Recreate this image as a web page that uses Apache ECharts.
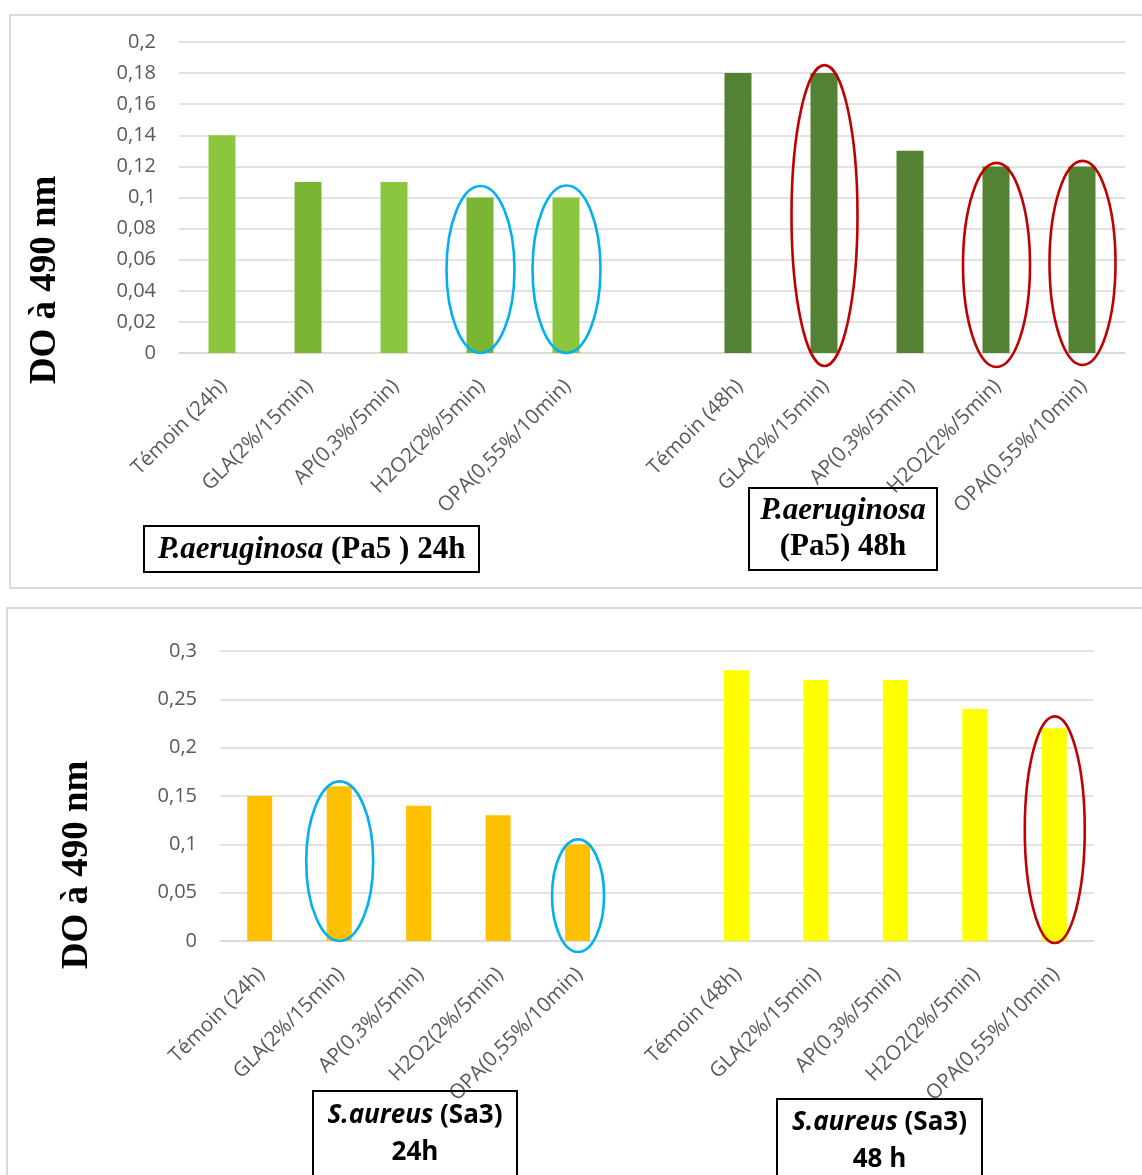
<!DOCTYPE html>
<html>
<head>
<meta charset="utf-8">
<script src="https://cdn.jsdelivr.net/npm/echarts@6/dist/echarts.min.js"></script>
<style>
  html, body { margin: 0; padding: 0; background: #ffffff; }
  #chart { width: 1142px; height: 1175px; }
</style>
</head>
<body>
<div id="chart"></div>
<script>
// Category labels for the two incubation times
const cats24 = ['Témoin (24h)', 'GLA(2%/15min)', 'AP(0,3%/5min)', 'H2O2(2%/5min)', 'OPA(0,55%/10min)'];
const cats48 = ['Témoin (48h)', 'GLA(2%/15min)', 'AP(0,3%/5min)', 'H2O2(2%/5min)', 'OPA(0,55%/10min)'];

// Optical density at 490 nm
const pa24 = [0.14, 0.11, 0.11, 0.10, 0.10];
const pa48 = [0.18, 0.18, 0.13, 0.12, 0.12];
const sa24 = [0.15, 0.16, 0.14, 0.13, 0.10];
const sa48 = [0.28, 0.27, 0.27, 0.24, 0.22];

// Treatments circled on each panel (index within the 24h / 48h group)
const paCircled24 = [3, 4];
const paCircled48 = [1, 3, 4];
const saCircled24 = [1, 4];
const saCircled48 = [4];

// ---- helpers ----
const GAP = 1;
const axisCats = cats24.concat([''], cats48);
const leftPart = v => v.concat(new Array(GAP + cats48.length).fill('-'));
const rightPart = v => new Array(cats24.length + GAP).fill('-').concat(v);
const fmt = v => String(Math.round(v * 100) / 100).replace('.', ',');

const GRID_GREY = '#D9D9D9';
const LABEL_GREY = '#595959';

function xAxisFor(gridIndex) {
  return {
    type: 'category', gridIndex, data: axisCats,
    axisLine: { show: true, lineStyle: { color: GRID_GREY, width: 1.5 } },
    axisTick: { show: false },
    axisLabel: {
      interval: 0, rotate: 45, margin: 17, padding: [0, 8, 0, 0],
      align: 'right', verticalAlign: 'top',
      color: LABEL_GREY, fontFamily: 'Open Sans', fontSize: 20.5
    }
  };
}
function yAxisFor(gridIndex, max, interval) {
  return {
    type: 'value', gridIndex, min: 0, max, interval,
    axisLine: { show: false }, axisTick: { show: false },
    splitLine: { lineStyle: { color: GRID_GREY, width: 1.5 } },
    axisLabel: { margin: 23, color: LABEL_GREY, fontFamily: 'Open Sans', fontSize: 20, formatter: fmt }
  };
}

const pa24Colors = ['#8AC73E', '#7AB534', '#8AC73E', '#7AB534', '#8AC73E'];

const chart = echarts.init(document.getElementById('chart'), null, { renderer: 'canvas' });

chart.setOption({
  animation: false,
  backgroundColor: '#ffffff',
  grid: [
    { left: 179, top: 42, width: 946, height: 311 },
    { left: 220, top: 651, width: 874, height: 290 }
  ],
  xAxis: [xAxisFor(0), xAxisFor(1)],
  yAxis: [yAxisFor(0, 0.2, 0.02), yAxisFor(1, 0.3, 0.05)],
  series: [
    {
      name: 'Pa5 24h', type: 'bar', xAxisIndex: 0, yAxisIndex: 0, barWidth: 27, barGap: '-100%',
      data: leftPart(pa24).map((v, i) => v === '-' ? v : { value: v, itemStyle: { color: pa24Colors[i] } })
    },
    {
      name: 'Pa5 48h', type: 'bar', xAxisIndex: 0, yAxisIndex: 0, barWidth: 27, barGap: '-100%',
      itemStyle: { color: '#548235' }, data: rightPart(pa48)
    },
    {
      name: 'Sa3 24h', type: 'bar', xAxisIndex: 1, yAxisIndex: 1, barWidth: 25, barGap: '-100%',
      itemStyle: { color: '#FFC000' }, data: leftPart(sa24)
    },
    {
      name: 'Sa3 48h', type: 'bar', xAxisIndex: 1, yAxisIndex: 1, barWidth: 25, barGap: '-100%',
      itemStyle: { color: '#FFFF00' }, data: rightPart(sa48)
    }
  ]
});

// ---- annotations: frames, axis titles, caption boxes, highlight ellipses ----
const BLUE = '#00B0F0', RED = '#C00000';
const ellipseLook = {
  pa24: [{ padTop: 11.5, padBottom: 0, rx: 34 }, { padTop: 12, padBottom: 0, rx: 34 }],
  pa48: [{ padTop: 8, padBottom: 13, rx: 33 }, { padTop: 3.5, padBottom: 14, rx: 33.5 }, { padTop: 5.5, padBottom: 12, rx: 33 }],
  sa24: [{ padTop: 5, padBottom: 0, rx: 33.5 }, { padTop: 5, padBottom: 11, rx: 26 }],
  sa48: [{ padTop: 12, padBottom: 2, rx: 30 }]
};

function ellipses(gridIndex, values, circled, offset, color, looks) {
  return circled.map((k, j) => {
    const cat = offset + k;
    const top = chart.convertToPixel({ gridIndex }, [cat, values[k]]);
    const base = chart.convertToPixel({ gridIndex }, [cat, 0]);
    const look = looks[j];
    const y1 = top[1] - look.padTop, y2 = base[1] + look.padBottom;
    return {
      type: 'ellipse', z: 100,
      shape: { cx: top[0] + 0.5, cy: (y1 + y2) / 2, rx: look.rx, ry: (y2 - y1) / 2 },
      style: { fill: 'none', stroke: color, lineWidth: 2.6 }
    };
  });
}

const serifRich = {
  i: { font: 'italic bold 31px "Liberation Serif"', fill: '#000', lineHeight: 36 },
  b: { font: 'bold 31px "Liberation Serif"', fill: '#000', lineHeight: 36 }
};
const sansRich = {
  i: { font: 'italic bold 26px "Open Sans"', fill: '#000', lineHeight: 37 },
  b: { font: 'bold 26px "Open Sans"', fill: '#000', lineHeight: 37 }
};
const boxStyle = { fill: 'none', stroke: '#000', lineWidth: 2 };

const off48 = cats24.length + GAP;
const graphics = [
  // panel frames
  { type: 'rect', z: -1, shape: { x: 10, y: 15, width: 1160, height: 573 }, style: { fill: 'none', stroke: '#D9D9D9', lineWidth: 2 } },
  { type: 'rect', z: -1, shape: { x: 7, y: 608, width: 1160, height: 600 }, style: { fill: 'none', stroke: '#D9D9D9', lineWidth: 2 } },
  // y axis titles
  {
    type: 'text', x: 45, y: 280, rotation: Math.PI / 2,
    style: { text: 'DO à 490 nm', font: 'bold 37px "Liberation Serif"', fill: '#000', align: 'center', verticalAlign: 'middle' }
  },
  {
    type: 'text', x: 77, y: 865, rotation: Math.PI / 2,
    style: { text: 'DO à 490 nm', font: 'bold 37px "Liberation Serif"', fill: '#000', align: 'center', verticalAlign: 'middle' }
  },
  // caption boxes, top panel
  { type: 'rect', z: 1, shape: { x: 144, y: 526, width: 335, height: 46 }, style: boxStyle },
  {
    type: 'text', z: 1, x: 311.5, y: 550,
    style: { text: '{i|P.aeruginosa}{b| (Pa5 ) 24h}', align: 'center', verticalAlign: 'middle', rich: serifRich }
  },
  { type: 'rect', z: 1, shape: { x: 749, y: 488, width: 188, height: 82 }, style: boxStyle },
  {
    type: 'text', z: 1, x: 843, y: 529,
    style: { text: '{i|P.aeruginosa}\n{b|(Pa5) 48h}', align: 'center', verticalAlign: 'middle', rich: serifRich }
  },
  // caption boxes, bottom panel
  { type: 'rect', z: 1, shape: { x: 313, y: 1091, width: 204, height: 120 }, style: boxStyle },
  {
    type: 'text', z: 1, x: 415, y: 1134,
    style: { text: '{i|S.aureus}{b| (Sa3)}\n{b|24h}', align: 'center', verticalAlign: 'middle', rich: sansRich }
  },
  { type: 'rect', z: 1, shape: { x: 777, y: 1099, width: 205, height: 120 }, style: boxStyle },
  {
    type: 'text', z: 1, x: 879.5, y: 1141,
    style: { text: '{i|S.aureus}{b| (Sa3)}\n{b|48 h}', align: 'center', verticalAlign: 'middle', rich: sansRich }
  }
].concat(
  ellipses(0, pa24, paCircled24, 0, BLUE, ellipseLook.pa24),
  ellipses(0, pa48, paCircled48, off48, RED, ellipseLook.pa48),
  ellipses(1, sa24, saCircled24, 0, BLUE, ellipseLook.sa24),
  ellipses(1, sa48, saCircled48, off48, RED, ellipseLook.sa48)
);

chart.setOption({ graphic: graphics });
</script>
</body>
</html>
